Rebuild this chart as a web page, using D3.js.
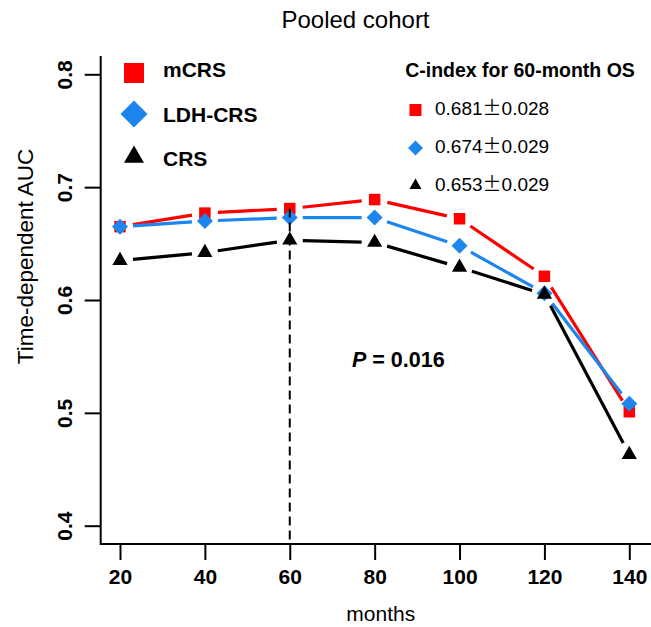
<!DOCTYPE html>
<html>
<head>
<meta charset="utf-8">
<script src="https://cdn.jsdelivr.net/npm/d3@7"></script>
<style>
  body { margin: 0; background: #fff; }
  text { font-family: "Liberation Sans", Arial, Helvetica, sans-serif; }
</style>
</head>
<body>
<script>
// Pooled cohort time-dependent AUC
var months = [20, 40, 60, 80, 100, 120, 140];
var mcrs = [0.665, 0.677, 0.681, 0.689, 0.672, 0.621, 0.501];
var ldhcrs = [0.665, 0.670, 0.673, 0.673, 0.648, 0.606, 0.508];
var crs = [0.635, 0.642, 0.653, 0.651, 0.629, 0.605, 0.463];
var yticks = [0.4, 0.5, 0.6, 0.7, 0.8];
var names = ["mCRS", "LDH-CRS", "CRS"];
var cindex = ["0.681", "0.674", "0.653"];
var cindexSe = ["0.028", "0.029", "0.029"];

var colors = ["#ff0000", "#1c86ee", "#000000"];
var shapes = ["square", "diamond", "triangle"];

var svg = d3.select("body")
    .append("svg")
    .attr("width", 651)
    .attr("height", 627);

var x = d3.scaleLinear().domain([20, 140]).range([120, 629.3]);
var y = d3.scaleLinear().domain([0.4, 0.8]).range([525.7, 74.3]);

// marker path, area in px^2
function marker(shape, area) {
    if (shape == "triangle") return d3.symbol().type(d3.symbolTriangle).size(area)();
    return d3.symbol().type(d3.symbolSquare).size(area)();
}
function addMarker(g, shape, area, cx, cy, col) {
    g.append("path")
        .attr("d", marker(shape, area))
        .attr("fill", col)
        .attr("transform", "translate(" + cx + "," + cy + ")" + (shape == "diamond" ? " rotate(45)" : ""));
}

// box (L shape)
svg.append("path")
    .attr("d", "M100.7,56V544H651")
    .attr("fill", "none")
    .attr("stroke", "#000")
    .attr("stroke-width", 2);

// axes
var yaxis = svg.append("g")
    .attr("transform", "translate(100.7,0)")
    .call(d3.axisLeft(y).tickValues(yticks).tickSize(16).tickFormat(d3.format(".1f")));
yaxis.select(".domain").remove();
yaxis.selectAll("line").attr("stroke-width", 2);
yaxis.selectAll("text")
    .attr("transform", "rotate(-90)")
    .attr("x", 0)
    .attr("y", -29)
    .attr("dy", 0)
    .attr("text-anchor", "middle")
    .attr("font-size", 21)
    .attr("font-weight", "bold")
    .attr("fill", "#000");

var xaxis = svg.append("g")
    .attr("transform", "translate(0,544)")
    .call(d3.axisBottom(x).tickValues(months).tickSize(16).tickFormat(d3.format("d")));
xaxis.select(".domain").remove();
xaxis.selectAll("line").attr("stroke-width", 2);
xaxis.selectAll("text")
    .attr("y", 40)
    .attr("dy", 0)
    .attr("font-size", 21)
    .attr("font-weight", "bold")
    .attr("fill", "#000");

// titles
svg.append("text")
    .attr("x", 355.5).attr("y", 28.3)
    .attr("text-anchor", "middle")
    .attr("font-size", 24)
    .text("Pooled cohort");
svg.append("text")
    .attr("transform", "translate(33.3,256.5) rotate(-90)")
    .attr("text-anchor", "middle")
    .attr("font-size", 22.5)
    .text("Time-dependent AUC");
svg.append("text")
    .attr("x", 380.8).attr("y", 621)
    .attr("text-anchor", "middle")
    .attr("font-size", 21)
    .text("months");

// series: lines with gaps around the points (type = "b")
var series = [mcrs, ldhcrs, crs];
var areas = [132, 128, 100];
var gap = 13;
series.forEach(function (vals, k) {
    var g = svg.append("g");
    for (var i = 0; i < months.length - 1; i++) {
        var x1 = x(months[i]), y1 = y(vals[i]);
        var x2 = x(months[i + 1]), y2 = y(vals[i + 1]);
        var len = Math.sqrt((x2 - x1) * (x2 - x1) + (y2 - y1) * (y2 - y1));
        var ux = (x2 - x1) / len, uy = (y2 - y1) / len;
        g.append("line")
            .attr("x1", x1 + ux * gap).attr("y1", y1 + uy * gap)
            .attr("x2", x2 - ux * gap).attr("y2", y2 - uy * gap)
            .attr("stroke", colors[k])
            .attr("stroke-width", 3.2);
    }
    vals.forEach(function (v, i) {
        addMarker(g, shapes[k], areas[k], x(months[i]), y(v), colors[k]);
    });
});

// dashed line at 60 months
svg.append("line")
    .attr("x1", x(60)).attr("x2", x(60))
    .attr("y1", y(mcrs[2])).attr("y2", 544)
    .attr("stroke", "#000")
    .attr("stroke-width", 2)
    .attr("stroke-dasharray", "9,5");

// P value
var p = svg.append("text")
    .attr("x", 352).attr("y", 367)
    .attr("font-size", 21.5)
    .attr("font-weight", "bold");
p.append("tspan").attr("font-style", "italic").text("P");
p.append("tspan").text(" = 0.016");

// left legend
var legAreas = [400, 365, 173];
var legY = [73, 114, 157];
var legBase = [76.7, 121.7, 166];
names.forEach(function (n, k) {
    addMarker(svg, shapes[k], legAreas[k], 134, legY[k], colors[k]);
    svg.append("text")
        .attr("x", 163).attr("y", legBase[k])
        .attr("font-size", 21)
        .attr("font-weight", "bold")
        .text(n);
});

// right legend: C-index
svg.append("text")
    .attr("x", 520).attr("y", 77)
    .attr("text-anchor", "middle")
    .attr("font-size", 19.5)
    .attr("font-weight", "bold")
    .text("C-index for 60-month OS");
var cAreas = [144, 112, 62];
var cY = [110, 148, 185.5];
var cBase = [115, 153, 191];
cindex.forEach(function (c, k) {
    addMarker(svg, shapes[k], cAreas[k], 415.5, cY[k], colors[k]);
    var t = svg.append("text")
        .attr("x", 435).attr("y", cBase[k])
        .attr("font-size", 19);
    t.append("tspan").text(c);
    t.append("tspan").style("font-family", "'Noto Sans CJK SC'").text("±");
    t.append("tspan").text(cindexSe[k]);
});
</script>
</body>
</html>
